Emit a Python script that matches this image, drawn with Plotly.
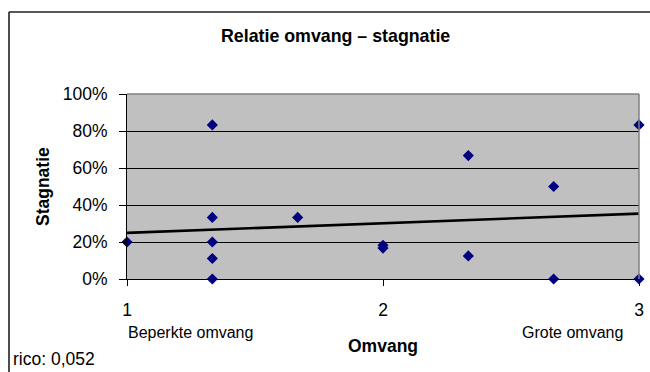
import numpy as np
import plotly.graph_objects as go

# Data
omvang = [1.0, 4/3, 4/3, 4/3, 4/3, 4/3, 5/3, 2.0, 2.0, 7/3, 7/3, 8/3, 8/3, 3.0, 3.0]
stagnatie = [0.20, 0.833, 0.333, 0.20, 0.111, 0.0, 0.333, 0.182, 0.167, 0.667, 0.125, 0.50, 0.0, 0.833, 0.0]
x_ticks = [1, 2, 3]
y_ticks = [0, 0.2, 0.4, 0.6, 0.8, 1.0]

title_text = "Relatie omvang – stagnatie"
x_title = "Omvang"
y_title = "Stagnatie"
low_label = "Beperkte omvang"
high_label = "Grote omvang"

slope, intercept = np.polyfit(omvang, stagnatie, 1)
trend_x = [1.0, 3.0]
trend_y = [intercept + slope * v for v in trend_x]

W, H = 650, 372
L, R, T, B = 127, 11, 94, 93
PW = W - L - R
PH = H - T - B


def px(xp):
    return (xp - L) / PW


def py(yp):
    return (H - B - yp) / PH


FONT = "Liberation Sans, Arial, sans-serif"

fig = go.Figure()
fig.add_trace(go.Scatter(
    x=trend_x, y=trend_y, mode="lines",
    line=dict(color="black", width=2.6),
    cliponaxis=False, showlegend=False, hoverinfo="skip"))
fig.add_trace(go.Scatter(
    x=omvang, y=stagnatie, mode="markers",
    marker=dict(symbol="diamond", size=8.6, color="#000080", line=dict(width=0)),
    cliponaxis=False, showlegend=False))

fig.update_layout(
    width=W, height=H,
    margin=dict(l=L, r=R, t=T, b=B, pad=0, autoexpand=False),
    paper_bgcolor="white",
    plot_bgcolor="#C0C0C0",
    font=dict(family=FONT, color="black", size=17),
    xaxis=dict(range=[1, 3], tickvals=x_ticks, ticktext=[str(v) for v in x_ticks],
               ticks="outside", ticklen=6, tickwidth=1, tickcolor="black",
               showline=True, linecolor="black", linewidth=1,
               showgrid=False, zeroline=False, fixedrange=True, automargin=False,
               tickfont=dict(size=17.5), ticklabelstandoff=9),
    yaxis=dict(range=[0, 1], tickvals=y_ticks, tickformat=".0%",
               ticks="outside", ticklen=7, tickwidth=1, tickcolor="black",
               showline=True, linecolor="black", linewidth=1,
               showgrid=True, gridcolor="black", gridwidth=1,
               zeroline=False, fixedrange=True, automargin=False,
               tickfont=dict(size=17.5), ticklabelstandoff=8),
    shapes=[
        # plot area border (top/right)
        dict(type="line", xref="paper", yref="paper", x0=0, x1=1, y0=1, y1=1,
             line=dict(color="#808080", width=1.5)),
        dict(type="line", xref="paper", yref="paper", x0=1, x1=1, y0=0, y1=1,
             line=dict(color="#808080", width=1.5)),
        # chart area border (top/left)
        dict(type="line", xref="paper", yref="paper", x0=px(9), x1=px(660), y0=py(12), y1=py(12),
             line=dict(color="#202020", width=1.6)),
        dict(type="line", xref="paper", yref="paper", x0=px(9), x1=px(9), y0=py(12), y1=py(380),
             line=dict(color="#202020", width=1.6)),
    ],
    annotations=[
        dict(text=f"<b>{title_text}</b>", xref="paper", yref="paper", x=px(335), y=py(36),
             xanchor="center", yanchor="middle", showarrow=False, font=dict(size=17.8)),
        dict(text=f"<b>{y_title}</b>", xref="paper", yref="paper", x=px(42.5), y=py(186.5),
             xanchor="center", yanchor="middle", textangle=-90, showarrow=False, font=dict(size=17.5)),
        dict(text=f"<b>{x_title}</b>", xref="paper", yref="paper", x=px(382.5), y=py(345.5),
             xanchor="center", yanchor="middle", showarrow=False, font=dict(size=17.5)),
        dict(text=low_label, xref="paper", yref="paper", x=px(126), y=py(332),
             xanchor="left", yanchor="middle", showarrow=False, font=dict(size=16)),
        dict(text=high_label, xref="paper", yref="paper", x=px(624.5), y=py(332),
             xanchor="right", yanchor="middle", showarrow=False, font=dict(size=16)),
        dict(text="rico: " + f"{slope:.3f}".replace(".", ","), xref="paper", yref="paper",
             x=px(11), y=py(359), xanchor="left", yanchor="middle", showarrow=False,
             font=dict(size=17.5)),
    ],
)

fig.write_html("out.html")
